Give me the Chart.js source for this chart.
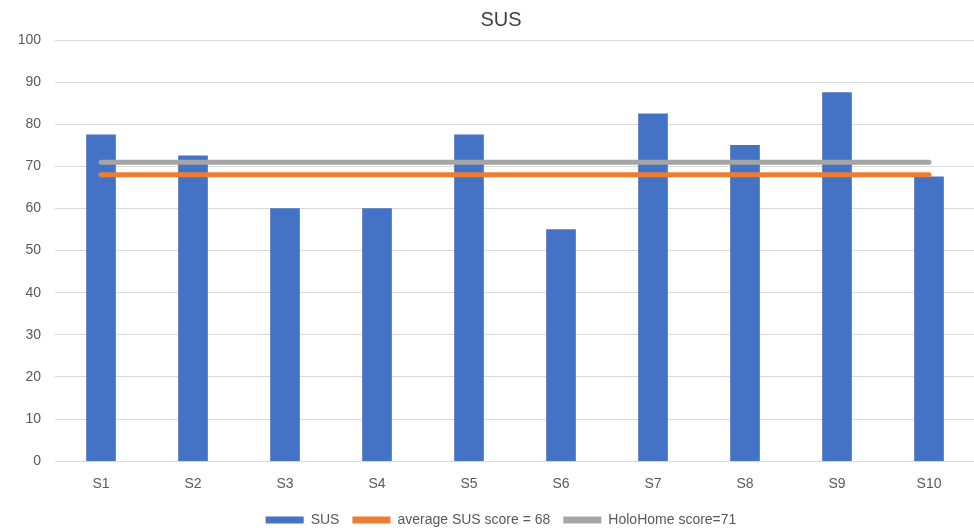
<!DOCTYPE html>
<html>
<head>
<meta charset="utf-8">
<script src="https://cdn.jsdelivr.net/npm/chart.js@4"></script>
<style>
  html, body { margin: 0; padding: 0; background: #fff; overflow: hidden; }
  /* canvas is a bit wider than the window so title/legend centre like the original */
  #wrap { width: 1002px; height: 528px; }
</style>
</head>
<body>
<div id="wrap"><canvas id="susChart" width="1002" height="528"></canvas></div>
<script>
// data
const categories = ["S1", "S2", "S3", "S4", "S5", "S6", "S7", "S8", "S9", "S10"];
const susScores = [77.5, 72.5, 60, 60, 77.5, 55, 82.5, 75, 87.5, 67.5];
const averageSus = [68, 68, 68, 68, 68, 68, 68, 68, 68, 68];
const holoHome = [71, 71, 71, 71, 71, 71, 71, 71, 71, 71];
const yTicks = [0, 10, 20, 30, 40, 50, 60, 70, 80, 90, 100];

const fontFamily = "'Liberation Sans', 'DejaVu Sans', sans-serif";
const textColor = "#595959";

const config = {
  type: "bar",
  data: {
    labels: categories,
    datasets: [
      {
        label: "SUS",
        data: susScores,
        backgroundColor: "#4472C4",
        barThickness: 29,
        order: 2,
      },
      {
        type: "line",
        label: "average SUS score = 68",
        data: averageSus,
        borderColor: "#ED7D31",
        backgroundColor: "#ED7D31",
        borderWidth: 5,
        borderCapStyle: "round",
        pointRadius: 0,
        order: 0,
      },
      {
        type: "line",
        label: "HoloHome score=71",
        data: holoHome,
        borderColor: "#A5A5A5",
        backgroundColor: "#A5A5A5",
        borderWidth: 5,
        borderCapStyle: "round",
        pointRadius: 0,
        order: 1,
      },
    ],
  },
  options: {
    responsive: false,
    animation: false,
    layout: { padding: { left: 0, right: 0, top: 6, bottom: -9 } },
    plugins: {
      title: {
        display: true,
        text: "SUS",
        color: "#404040",
        font: { family: fontFamily, size: 20, weight: "normal" },
        padding: { top: 2, bottom: 8 },
      },
      legend: {
        position: "bottom",
        labels: {
          color: textColor,
          font: { family: fontFamily, size: 14 },
          boxWidth: 38,
          boxHeight: 7,
          padding: 13,
          sort: (a, b) => a.datasetIndex - b.datasetIndex,
          generateLabels: (chart) => {
            const items = Chart.defaults.plugins.legend.labels.generateLabels(chart);
            items.forEach((item) => {
              item.lineWidth = 0;
            });
            return items;
          },
        },
      },
      tooltip: { enabled: false },
    },
    scales: {
      x: {
        grid: { display: false },
        border: { display: false },
        ticks: {
          color: textColor,
          font: { family: fontFamily, size: 14 },
          padding: 7,
        },
      },
      y: {
        min: 0,
        max: 100,
        afterBuildTicks: (axis) => {
          axis.ticks = yTicks.map((v) => ({ value: v }));
        },
        afterFit: (axis) => {
          axis.width = 55;
        },
        grid: { color: "#D9D9D9", lineWidth: 1, drawTicks: false },
        border: { display: false },
        ticks: {
          color: textColor,
          font: { family: fontFamily, size: 14 },
          padding: 14,
        },
      },
      // empty right axis, only keeps the plot ending at the window edge
      yRight: {
        position: "right",
        grid: { display: false },
        border: { display: false },
        ticks: { display: false },
        afterFit: (axis) => {
          axis.width = 27;
        },
      },
    },
  },
};

new Chart("susChart", config);
</script>
</body>
</html>
